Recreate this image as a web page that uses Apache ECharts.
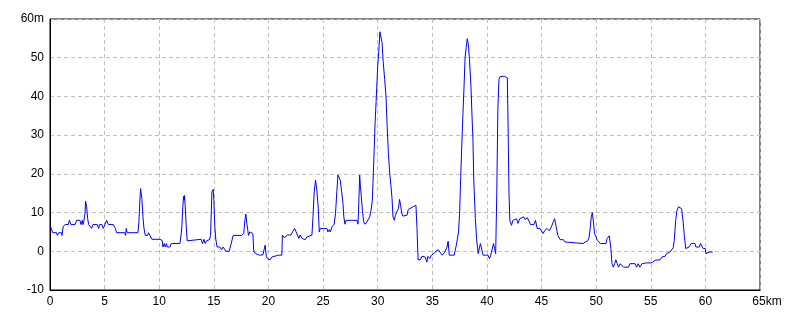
<!DOCTYPE html>
<html>
<head>
<meta charset="utf-8">
<script src="https://cdn.jsdelivr.net/npm/echarts@6/dist/echarts.min.js"></script>
<style>html,body{margin:0;padding:0;background:#fff}#c{width:800px;height:320px}</style>
</head>
<body>
<div id="c"></div>
<script>
// distance along route (km)
const distKm = [
0,0.12,0.25,0.6,0.67,0.8,0.95,1.05,1.1,1.2,1.37,1.68,1.77,1.92,2.29,2.44,2.74,2.84,2.96,3.02,3.11,3.2,3.26,3.35,3.45,3.54,3.72,3.81,3.93,4.33,4.45,4.54,4.76,4.88,5.03,5.18,5.34,5.79,5.98,6.1,6.83,6.92,6.98,7.07,7.62,7.71,7.77,8.05,8.14,8.23,8.29,8.35,8.41,8.51,8.6,8.72,8.93,9.02,9.2,9.33,10.06,10.18,10.27,10.34,10.46,10.55,10.67,10.73,10.98,11.1,11.89,11.98,12.07,12.16,12.23,12.29,12.32,12.38,12.47,12.56,12.68,13.84,13.96,14.09,14.21,14.33,14.48,14.6,14.7,14.82,14.91,14.94,15.0,15.09,15.18,15.3,15.55,15.7,15.85,16.0,16.1,16.4,16.55,16.68,16.77,17.53,17.62,17.74,17.84,17.93,18.02,18.11,18.17,18.29,18.41,18.57,18.66,18.78,18.96,19.09,19.2,19.36,19.5,19.6,19.7,19.8,19.9,
20.15,20.3,20.46,20.92,21.07,21.22,21.28,21.44,21.59,21.74,22.05,22.2,22.39,22.54,22.66,22.78,22.9,23.09,23.21,23.36,23.52,23.67,23.98,24.07,24.19,24.31,24.43,24.56,24.65,24.74,25.05,25.2,25.35,25.44,25.57,25.66,25.81,26.02,26.14,26.27,26.36,26.45,26.57,26.7,26.82,26.9,27.0,27.1,28.1,28.2,28.29,28.35,28.41,28.5,28.6,28.72,28.84,29.02,29.17,29.27,29.39,29.51,29.63,29.76,29.88,30.0,30.1,30.2,30.3,30.4,30.5,30.64,30.76,30.86,30.98,31.1,31.22,31.31,31.4,31.53,31.62,31.77,31.9,32.0,32.1,32.2,32.3,32.68,32.8,32.98,33.3,33.5,33.6,33.7,33.9,34.05,34.2,34.35,34.5,34.6,34.77,34.92,35.14,35.35,35.54,35.75,35.9,36.1,36.35,36.45,36.55,37.0,37.2,37.3,37.4,37.5,37.6,37.7,37.8,37.9,38.0,38.1,38.2,38.3,38.4,38.54,38.63,38.72,38.8,38.94,39.06,39.2,39.3,39.4,39.55,39.65,39.8,40.1,40.23,40.35,40.47,40.6,40.7,40.8,40.9,41.0,41.1,41.2,41.4,41.6,41.75,41.87,41.93,42.02,42.1,42.25,42.38,42.56,42.7,42.85,43.0,43.15,43.36,43.5,43.7,
44.0,44.3,44.45,44.5,44.6,44.85,45.0,45.15,45.3,45.5,45.7,45.9,46.07,46.2,46.3,46.4,46.5,46.7,47.0,47.15,47.3,48.8,49.0,49.2,49.35,49.47,49.55,49.65,49.75,49.85,50.0,50.1,50.2,50.4,50.9,51.0,51.2,51.26,51.35,51.45,51.57,51.7,51.8,51.93,52.05,52.2,52.3,52.5,52.95,53.1,53.57,53.7,53.85,54.0,54.2,54.6,55.0,55.2,55.4,55.85,56.0,56.15,56.3,56.45,56.75,56.9,57.05,57.15,57.28,57.4,57.55,57.7,57.82,57.95,58.07,58.2,58.35,58.5,58.6,58.7,59.05,59.13,59.45,59.55,59.7,59.8,60.0,60.05,60.2,60.37,60.67
];
// elevation (m)
const elevM = [
6.7,5.9,4.8,4.8,4.1,4.8,4.6,4.8,4.1,6.3,6.9,6.9,8.0,6.9,6.9,8.0,8.0,6.9,8.0,6.9,8.0,9.7,12.9,11.6,8.4,6.9,6.9,5.9,6.9,6.9,5.9,6.9,6.9,5.9,6.9,8.0,6.9,6.9,5.9,4.8,4.8,4.1,5.9,4.8,4.8,4.4,4.8,4.8,7.6,13.2,16.2,16.5,13.6,8.9,6.0,4.1,4.1,4.8,4.8,3.1,3.1,3.6,2.8,1.1,2.0,1.1,2.0,1.1,1.1,2.0,2.0,3.7,6.3,11.5,14.2,13.2,14.4,11.5,6.6,2.7,3.1,3.1,2.0,3.1,2.0,2.7,2.2,3.0,4.1,15.3,15.8,16.0,13.2,6.3,3.1,1.1,1.1,0.4,1.1,0.7,0,0,1.6,2.0,4.1,4.1,3.7,4.6,8.0,9.6,7.2,5.4,4.1,5.0,5.4,4.6,-0.2,-0.6,-0.8,-0.4,-1.0,-0.6,-0.9,0.4,1.6,-1.3,-1.9,
-2.2,-1.5,-1.0,-1.0,-1.5,-1.0,4.2,3.5,3.0,4.2,4.2,5.0,5.9,5.9,4.2,3.3,4.2,3.3,3.7,3.0,3.7,4.2,4.2,8.5,15.4,18.4,15.8,11.1,5.0,5.9,5.9,5.4,5.9,5.0,5.6,5.0,6.3,7.0,9.8,15.8,19.7,20.2,18.4,15.4,12.4,8.9,7.0,8.0,8.0,7.0,14.1,19.7,17.1,14.1,10.6,7.6,7.0,7.6,7.2,8.9,10.6,13.2,22.3,33.1,40.1,47.8,51.7,56.7,56.3,53.9,49.1,44.4,40.1,32.7,25.3,20.2,16.7,13.7,8.9,8.0,9.3,9.8,11.1,13.4,11.9,9.8,9.1,9.3,10.8,11.3,11.6,11.9,5.9,-2.2,-2.2,-1.3,-1.0,-1.5,-2.8,-1.3,-1.9,-1.0,-0.6,0.1,0.4,-0.4,-1.0,-0.4,1.1,2.6,-1.0,-1.0,1.6,3.3,5.0,9.8,19.3,27.5,35.3,42.2,50.0,52.6,54.9,53.5,49.6,42.6,35.3,28.8,18.0,8.5,3.0,-0.6,-1.0,2.0,2.0,-1.0,-1.0,-1.0,-1.9,-1.0,-0.6,2.0,0.7,-0.6,14.5,36.6,44.4,45.1,45.2,45.2,45.5,44.8,33.6,15.0,7.9,6.7,8.0,7.6,8.4,7.2,8.4,7.9,8.9,8.2,8.7,
6.9,6.9,8.0,8.4,5.9,5.9,5.6,4.6,5.4,5.9,5.3,6.3,7.6,8.4,8.4,5.4,4.1,3.0,3.0,2.4,2.0,2.0,2.4,2.6,3.5,6.3,8.9,10.0,7.6,4.6,3.7,2.8,3.3,2.0,2.0,3.3,4.0,3.7,0.7,-3.2,-4.1,-3.2,-2.2,-3.2,-4.1,-3.2,-3.6,-4.1,-4.1,-3.2,-3.2,-4.1,-3.2,-4.1,-3.2,-3.0,-3.0,-2.8,-2.3,-2.2,-1.5,-1.0,-1.3,-0.6,-0.2,-0.2,0.9,2.8,8.0,10.6,11.5,11.9,11.0,8.0,4.1,0.7,0.3,1.1,1.3,2.0,2.0,1.1,1.1,2.0,2.0,0.7,0.7,-0.6,-0.2,-0.2,-0.2
];
const xTicks = [0,5,10,15,20,25,30,35,40,45,50,55,60,65];
const yTicks = [-10,0,10,20,30,40,50,60];

const points = distKm.map((d,i)=>[d, elevM[i]]);
const chart = echarts.init(document.getElementById('c'), null, {renderer:'canvas'});
const font = 'Liberation Sans';
chart.setOption({
  animation:false,
  backgroundColor:'#ffffff',
  grid:{left:50,right:40,top:19,bottom:30,show:true,borderColor:'#000',borderWidth:1,backgroundColor:'transparent'},
  xAxis:{
    type:'value', min:xTicks[0], max:xTicks[xTicks.length-1], interval:5,
    axisLine:{show:true,onZero:false,lineStyle:{color:'#000',width:1}},
    axisTick:{show:false},
    splitLine:{show:true,lineStyle:{color:'#c0c0c0',type:[4,3],width:1}},
    axisLabel:{color:'#000',fontFamily:font,fontSize:12,margin:6,
      formatter:v=> v===65 ? '{s|}65km' : String(v),
      rich:{s:{width:14}}, showMaxLabel:true, showMinLabel:true}
  },
  yAxis:{
    type:'value', min:yTicks[0], max:yTicks[yTicks.length-1], interval:10,
    axisLine:{show:true,onZero:false,lineStyle:{color:'#000',width:1}},
    axisTick:{show:false},
    splitLine:{show:true,lineStyle:{color:'#c0c0c0',type:[4,3],width:1}},
    axisLabel:{color:'#000',fontFamily:font,fontSize:12,margin:6,
      formatter:v=> v===60 ? '60m' : String(v)}
  },
  series:[{
    type:'line', data:points, showSymbol:false, symbol:'none',
    lineStyle:{color:'#0000ff',width:1}, z:3
  }]
});
</script>
</body>
</html>
